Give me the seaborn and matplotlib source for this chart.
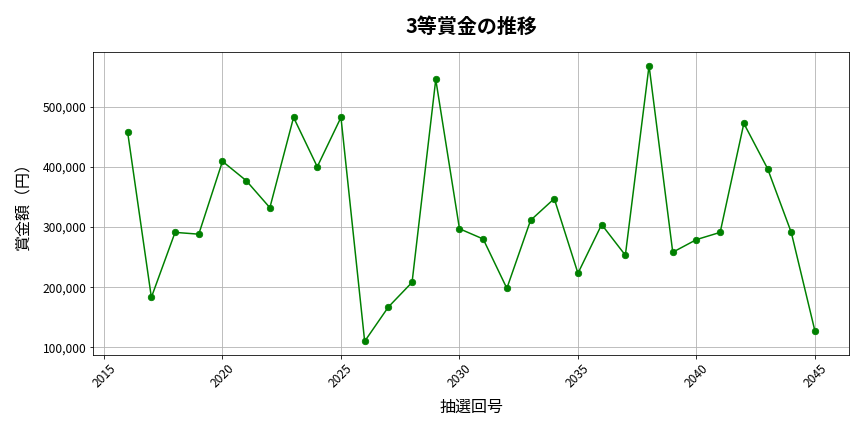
import matplotlib
matplotlib.use("Agg")
import matplotlib.pyplot as plt
import matplotlib.ticker as mticker
import seaborn as sns
import pandas as pd

draws = list(range(2016, 2046))
prizes = [457000, 183000, 291000, 288000, 409000, 377000, 332000, 482000, 400000, 482000,
          110000, 167000, 208000, 545000, 297000, 280000, 198000, 311000, 347000, 223000,
          304000, 253000, 568000, 258000, 279000, 291000, 472000, 397000, 291000, 127000]

title = "3等賞金の推移"
xlabel = "抽選回号"
ylabel = "賞金額（円）"

df = pd.DataFrame({"draw": draws, "prize": prizes})

plt.rcParams['font.family'] = ['Noto Sans CJK JP', 'DejaVu Sans']
fig, ax = plt.subplots(figsize=(12, 6), dpi=72)
fig.subplots_adjust(left=0.108, right=0.983, top=0.880, bottom=0.178)

sns.lineplot(data=df, x="draw", y="prize", ax=ax, color="green", marker="o",
             markersize=6.5, markeredgecolor="green", linewidth=1.5)

ax.set_title(title, fontsize=20, fontweight="bold", pad=19)
ax.set_xlabel(xlabel, fontsize=16, labelpad=8)
ax.set_ylabel(ylabel, fontsize=16, labelpad=10)
ax.yaxis.set_major_formatter(mticker.FuncFormatter(lambda v, p: f"{int(v):,}"))
ax.tick_params(axis="both", labelsize=12)
plt.setp(ax.get_xticklabels(), rotation=45)
ax.grid(True, color="#b0b0b0", linewidth=0.8)

fig.savefig("out.png", dpi=72)
